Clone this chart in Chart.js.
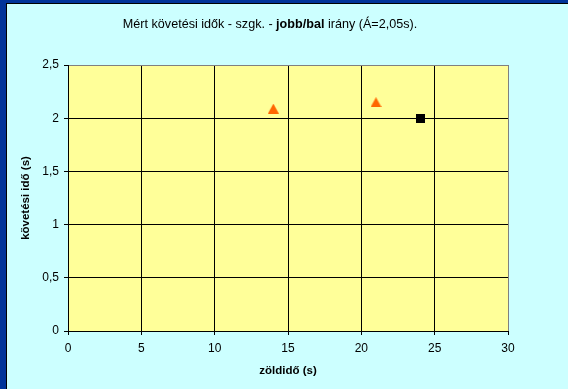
<!DOCTYPE html>
<html>
<head>
<meta charset="utf-8">
<script src="https://cdn.jsdelivr.net/npm/chart.js@4.4.1/dist/chart.umd.min.js"></script>
<style>
  html, body { margin: 0; padding: 0; background: #CCFFFF; }
  canvas { display: block; }
</style>
</head>
<body>
<canvas id="c" width="568" height="389"></canvas>
<script>
// Measured follow-up times (right/left turn, passenger cars)
const greenTimes = [14, 21];          // zöldidő (s)
const followTimes = [2.09, 2.15];     // követési idő (s)
const refGreen = [24];
const refFollow = [2.0];

const xTickValues = [0, 5, 10, 15, 20, 25, 30];
const yTickValues = [0, 0.5, 1, 1.5, 2, 2.5];

const titleParts = [
  { text: 'Mért követési idők - szgk. - ', bold: false },
  { text: 'jobb/bal', bold: true },
  { text: ' irány (Á=2,05s).', bold: false }
];
const xTitle = 'zöldidő (s)';
const yTitle = 'követési idő (s)';

const FONT = "'Liberation Sans', Arial, sans-serif";

// Orange triangle marker, drawn centred on its bounding box
function triangleMarker(w, h, color) {
  const cv = document.createElement('canvas');
  cv.width = w; cv.height = h;
  const g = cv.getContext('2d');
  g.fillStyle = color;
  g.beginPath();
  g.moveTo(w / 2, 0);
  g.lineTo(w, h);
  g.lineTo(0, h);
  g.closePath();
  g.fill();
  return cv;
}
function squareMarker(s, color) {
  const cv = document.createElement('canvas');
  cv.width = s; cv.height = s;
  const g = cv.getContext('2d');
  g.fillStyle = color;
  g.fillRect(0, 0, s, s);
  return cv;
}

const frameAndBackground = {
  id: 'frameAndBackground',
  beforeDraw(chart) {
    const ctx = chart.ctx;
    const { width, height, chartArea: a } = chart;
    ctx.save();
    ctx.fillStyle = '#CCFFFF';
    ctx.fillRect(0, 0, width, height);
    // dark blue edge on top and left, with a thin black inner line
    ctx.fillStyle = '#003399';
    ctx.fillRect(0, 0, width, 3);
    ctx.fillRect(0, 0, 6, height);
    ctx.fillStyle = '#000000';
    ctx.fillRect(6, 3, width - 6, 1);
    ctx.fillRect(6, 3, 1, height - 3);
    // plot area
    ctx.fillStyle = '#FFFF99';
    ctx.fillRect(a.left, a.top, a.right - a.left, a.bottom - a.top);
    ctx.restore();
  },
  afterDraw(chart) {
    const ctx = chart.ctx;
    ctx.save();
    ctx.fillStyle = '#000000';
    ctx.textBaseline = 'middle';
    const fontFor = p => (p.bold ? 'bold ' : '') + '12.6px ' + FONT;
    let total = 0;
    titleParts.forEach(p => { ctx.font = fontFor(p); total += ctx.measureText(p.text).width; });
    let x = 270 - total / 2;
    titleParts.forEach(p => {
      ctx.font = fontFor(p);
      ctx.textAlign = 'left';
      ctx.fillText(p.text, x, 25);
      x += ctx.measureText(p.text).width;
    });
    ctx.restore();
  }
};

const toXY = (xs, ys) => xs.map((x, i) => ({ x: x, y: ys[i] }));
const commaFmt = v => String(v).replace('.', ',');

new Chart(document.getElementById('c'), {
  type: 'scatter',
  data: {
    datasets: [
      {
        label: 'jobb/bal',
        data: toXY(greenTimes, followTimes),
        pointStyle: triangleMarker(11, 10, '#FF6600'),
        pointRadius: 6,
        pointHoverRadius: 6,
        backgroundColor: '#FF6600',
        borderColor: '#FF6600'
      },
      {
        label: 'átlag',
        data: toXY(refGreen, refFollow),
        pointStyle: squareMarker(9, '#000000'),
        pointRadius: 5,
        pointHoverRadius: 5,
        backgroundColor: '#000000',
        borderColor: '#000000'
      }
    ]
  },
  options: {
    responsive: false,
    animation: false,
    events: [],
    layout: { padding: { top: 65, right: 60, bottom: 0, left: 0 } },
    plugins: {
      legend: { display: false },
      title: { display: false },
      tooltip: { enabled: false }
    },
    scales: {
      x: {
        type: 'linear',
        min: 0, max: 30,
        afterBuildTicks: s => { s.ticks = xTickValues.map(v => ({ value: v })); },
        afterFit: s => { s.height = 58; },
        grid: {
          color: c => (c.tick && c.tick.value === 30) ? '#808080' : '#000000',
          tickColor: '#000000',
          tickLength: 4,
          lineWidth: 1
        },
        border: { color: '#000000', width: 1 },
        ticks: {
          color: '#000000',
          padding: 6,
          maxRotation: 0,
          font: { family: FONT, size: 12 },
          callback: v => commaFmt(v)
        },
        title: {
          display: true,
          text: xTitle,
          color: '#000000',
          font: { family: FONT, size: 11.5, weight: 'bold' },
          padding: { top: 0, bottom: 11 }
        }
      },
      y: {
        type: 'linear',
        min: 0, max: 2.5,
        afterBuildTicks: s => { s.ticks = yTickValues.map(v => ({ value: v })); },
        afterFit: s => { s.width = 68; },
        grid: {
          color: c => (c.tick && c.tick.value === 2.5) ? '#808080' : '#000000',
          tickColor: '#000000',
          tickLength: 4,
          lineWidth: 1
        },
        border: { color: '#000000', width: 1 },
        ticks: {
          color: '#000000',
          padding: 5,
          font: { family: FONT, size: 12 },
          callback: v => commaFmt(v)
        },
        title: {
          display: true,
          text: yTitle,
          color: '#000000',
          font: { family: FONT, size: 11.5, weight: 'bold' },
          padding: { top: 19, bottom: 0 }
        }
      }
    }
  },
  plugins: [frameAndBackground]
});
</script>
</body>
</html>
